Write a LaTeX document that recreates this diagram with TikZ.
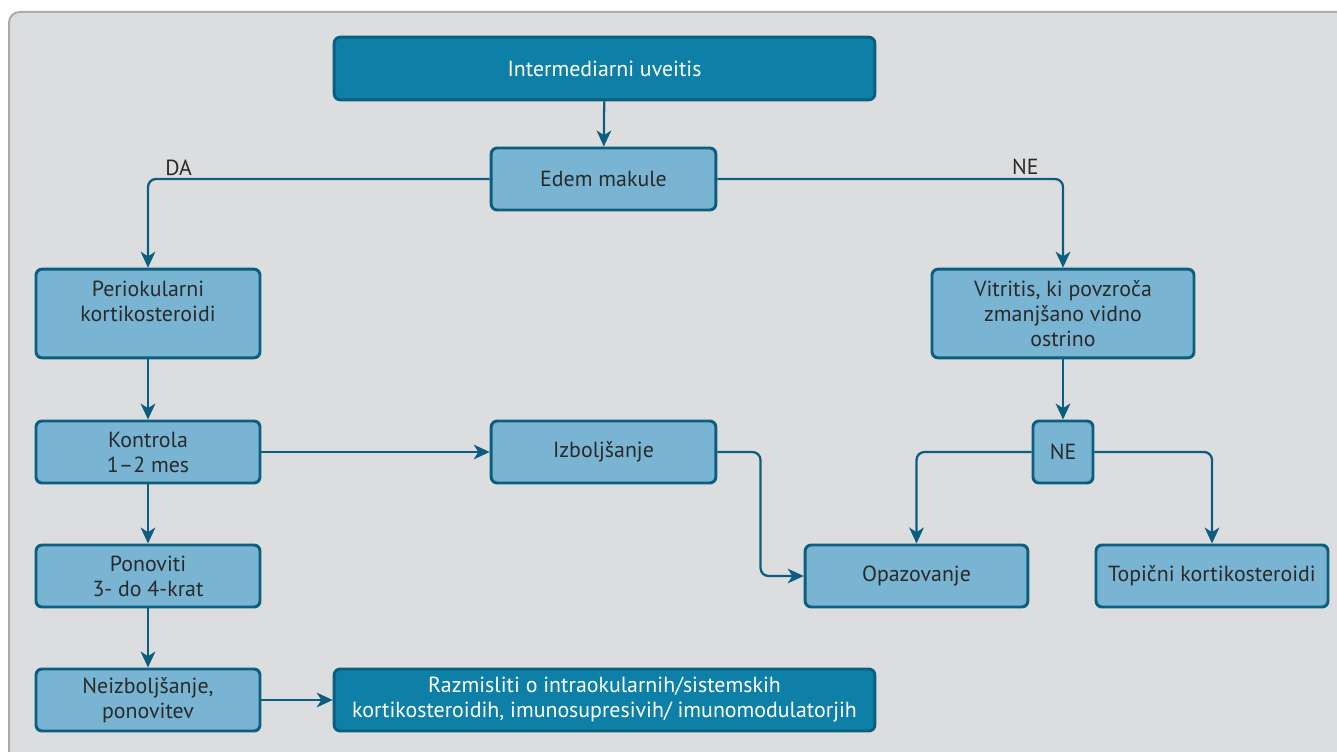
\documentclass[tikz,border=0pt]{standalone}
\usepackage{fontspec}
\setmainfont{PT Sans}
\usetikzlibrary{calc,arrows.meta}
\definecolor{panelgray}{HTML}{DCDDDF}
\definecolor{panelline}{HTML}{ABABAB}
\definecolor{headblue}{HTML}{0E7FA6}
\definecolor{lightblue}{HTML}{79B4D2}
\definecolor{boxline}{HTML}{0B5E7E}
\definecolor{txtgray}{HTML}{2A2A2A}
\tikzset{
	box/.style={draw=boxline, line width=2.2pt, rounded corners=4.5pt, fill=lightblue, text=txtgray,
		align=center, inner sep=0pt, minimum height=46.5pt, font=\fontsize{16.4}{18.75}\selectfont},
	headbox/.style={box, fill=headblue, text=white},
	arr/.style={draw=boxline, line width=1.7pt, rounded corners=6pt, -{Stealth[length=12pt,width=11pt,inset=3.5pt]}},
	lbl/.style={text=txtgray, inner sep=2pt, font=\fontsize{16.4}{18.75}\selectfont}
}

\begin{document}
\begin{tikzpicture}[x=0.75pt, y=-0.75pt]
			%%%%% START %%%%%
			
			\useasboundingbox (0, 0) rectangle (1337, 752);
			\clip (0, 0) rectangle (1337, 752);
			\fill[white] (0, 0) rectangle (1337, 752);
			\draw[panelline, fill=panelgray, line width=1.5pt, rounded corners=8pt] (9, 12) rectangle (1370, 790);
			
			\node[headbox, minimum width=405.5pt, minimum height=47pt] (uveitis) at (604.5, 68.5) {Intermediarni uveitis};
			\node[box, minimum width=168.5pt] (edem) at (603.5, 179) {Edem makule};
			
			\node[box, minimum width=168pt, minimum height=66.5pt] (perio) at (148, 313.5) {Periokularni\\kortikosteroidi\\~};
			\node[box, minimum width=196.5pt, minimum height=66.5pt] (vitritis) at (1063, 313.5) {Vitritis, ki povzroča\\zmanjšano vidno\\ostrino};
			
			\node[box, minimum width=168pt] (kontrola) at (148, 452) {Kontrola\\1–2 mes};
			\node[box, minimum width=168.5pt] (izbolj) at (603.5, 452) {Izboljšanje};
			\node[box, minimum width=45pt] (ne) at (1063, 452) {NE};
			
			\node[box, minimum width=168pt] (ponoviti) at (148, 576) {Ponoviti\\3- do 4-krat};
			\node[box, minimum width=167pt] (opaz) at (916.5, 576) {Opazovanje};
			\node[box, minimum width=174pt] (topicni) at (1212, 576) {Topični kortikosteroidi};
			
			\node[box, minimum width=168pt] (neizbolj) at (148, 700) {Neizboljšanje,\\ponovitev};
			\node[headbox, minimum width=405.5pt] (razmisliti) at (604.5, 700) {Razmisliti o intraokularnih/sistemskih\\kortikosteroidih, imunosupresivih/ imunomodulatorjih};
			
			\draw[arr] (uveitis) -- (edem);
			\draw[arr] (edem.west) -| node[lbl, pos=0.48, anchor=south west] {DA} (perio.north);
			\draw[arr] (edem.east) -| node[lbl, pos=0.47, anchor=south east] {NE} (vitritis.north);
			
			\draw[arr] (perio) -- (kontrola);
			\draw[arr] (kontrola) -- (ponoviti);
			\draw[arr] (ponoviti) -- (neizbolj);
			\draw[arr] (kontrola) -- (izbolj);
			\draw[arr] (neizbolj) -- (razmisliti);
			\draw[arr] (izbolj.east) -| ($(izbolj.east)!0.5!(opaz.west)$) |- (opaz.west);
			
			\draw[arr] (vitritis) -- (ne);
			\draw[arr] (ne.west) -| (opaz.north);
			\draw[arr] (ne.east) -| (topicni.north);
			
			%%%%% END %%%%%
		\end{tikzpicture}
\end{document}
